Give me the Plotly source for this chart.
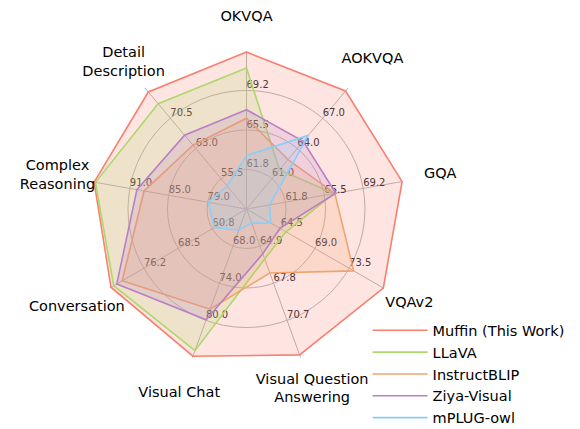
import plotly.graph_objects as go

# ---- data ----
axes = ["OKVQA", "AOKVQA", "GQA", "VQAv2", "Visual Question Answering",
        "Visual Chat", "Conversation", "Complex Reasoning", "Detail Description"]
axis_titles = ["OKVQA", "AOKVQA", "GQA", "VQAv2", "Visual Question<br>Answering",
               "Visual Chat", "Conversation", "Complex<br>Reasoning", "Detail<br>Description"]
ticks = [[61.8, 65.5, 69.2], [61.0, 64.0, 67.0], [61.8, 65.5, 69.2],
         [64.5, 69.0, 73.5], [64.9, 67.8, 70.7], [68.0, 74.0, 80.0],
         [60.8, 68.5, 76.2], [79.0, 85.0, 91.0], [55.5, 63.0, 70.5]]

series_names = ["Muffin (This Work)", "LLaVA", "InstructBLIP", "Ziya-Visual", "mPLUG-owl"]
muffin = [72.8, 69.7, 72.9, 78.0, 73.4, 85.8, 83.6, 96.5, 77.0]
llava = [71.3, 61.9, 66.4, 65.2, 65.9, 84.9, 83.0, 96.3, 74.1]
instructblip = [66.6, 62.9, 66.5, 74.1, 67.0, 78.2, 81.1, 88.8, 63.8]
ziya = [67.4, 64.7, 66.6, 64.4, 65.5, 79.9, 82.3, 89.9, 66.3]
mplug = [63.1, 65.3, 60.3, 63.2, 63.1, 65.4, 60.3, 78.9, 53.7]
series_values = [muffin, llava, instructblip, ziya, mplug]

# ---- styling / layout ----
colors = ["#FA7F6F", "#ADD86C", "#EFA46E", "#B97FC6", "#8ACEF8"]
fills = ["rgba(250,127,111,0.2)", "rgba(173,216,108,0.2)", "rgba(239,164,110,0.2)",
         "rgba(185,127,198,0.2)", "rgba(138,206,248,0.2)"]
title_radii = [1.21, 1.24, 1.245, 1.19, 1.215, 1.245, 1.24, 1.215, 1.21]

FONT = "DejaVu Sans"
GRID = "#b5b5b5"
OUTER_R = 1.25


def norm(vals):
    out = []
    for v, t in zip(vals, ticks):
        step = t[1] - t[0]
        out.append(0.25 * (1 + (v - t[0]) / step))
    return out


fig = go.Figure()

# spokes (angular grid lines ending at the outer scale value 1.0)
for a in axes:
    fig.add_trace(go.Scatterpolar(r=[0, 1], theta=[a, a], mode="lines",
                                  line=dict(color=GRID, width=1),
                                  showlegend=False, hoverinfo="skip"))

# per-axis tick labels (drawn before fills so fills lie over them)
tr, tt, tx = [], [], []
for a, t in zip(axes, ticks):
    for j, val in enumerate(t):
        tr.append(0.25 * (j + 1))
        tt.append(a)
        tx.append(f"{val:.1f}")
fig.add_trace(go.Scatterpolar(r=tr, theta=tt, text=tx, mode="text",
                              textposition="top right",
                              textfont=dict(family=FONT, size=10, color="#222222"),
                              showlegend=False, hoverinfo="skip", cliponaxis=False))

for name, vals, c, fc in zip(series_names, series_values, colors, fills):
    r = norm(vals)
    r = r + [r[0]]
    th = axes + [axes[0]]
    fig.add_trace(go.Scatterpolar(r=r, theta=th, mode="none", fill="toself",
                                  fillcolor=fc, showlegend=False, hoverinfo="skip"))
    fig.add_trace(go.Scatterpolar(r=r, theta=th, mode="lines", name=name,
                                  line=dict(color=c, width=1.6)))

# axis titles
fig.add_trace(go.Scatterpolar(r=title_radii, theta=axes, text=axis_titles,
                              mode="text", textposition="middle center",
                              textfont=dict(family=FONT, size=14.5, color="black"),
                              showlegend=False, hoverinfo="skip", cliponaxis=False))

fig.update_layout(
    width=580, height=429,
    margin=dict(l=0, r=0, t=0, b=0),
    paper_bgcolor="white",
    font=dict(family=FONT),
    polar=dict(
        domain=dict(x=[0.07069, 0.75172], y=[0.07110, 0.99184]),
        bgcolor="rgba(0,0,0,0)",
        gridshape="circular",
        radialaxis=dict(range=[0, OUTER_R], tickvals=[0.25, 0.5, 0.75], showticklabels=False,
                        ticks="", showline=False, gridcolor=GRID, gridwidth=1,
                        angle=90),
        angularaxis=dict(rotation=90, direction="clockwise", type="category",
                         categoryorder="array", categoryarray=axes,
                         showticklabels=False, ticks="", showline=False,
                         showgrid=False),
    ),
    legend=dict(x=0.62, y=0.286, xanchor="left", yanchor="top",
                font=dict(family=FONT, size=14.5, color="black"),
                bgcolor="rgba(0,0,0,0)", itemwidth=55, tracegroupgap=0),
)

fig.write_html("out.html")
